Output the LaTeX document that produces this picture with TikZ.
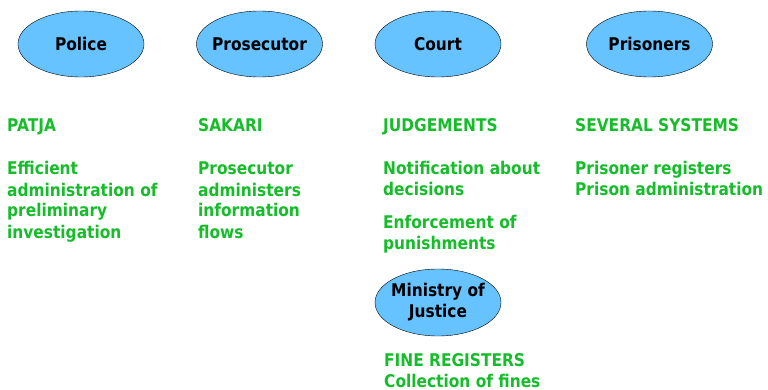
\documentclass[tikz,border=0pt]{standalone}
\usepackage{fontspec}
\setmainfont{DejaVu Sans}[FakeStretch=0.88]
\usepackage{xcolor}
\usetikzlibrary{shapes.geometric}
\definecolor{bubble}{RGB}{102,195,255}
\definecolor{sysgreen}{RGB}{22,188,42}
\tikzset{
  party/.style={ellipse, draw=black, fill=bubble, minimum width=126pt, minimum height=66pt, inner xsep=-5pt, inner ysep=0pt, align=center, font=\fontsize{17.5}{21}\bfseries},
  system/.style={anchor=base west, inner sep=0pt, align=left, text=sysgreen, font=\fontsize{17.5}{21}\bfseries}
}
\begin{document}
\begin{tikzpicture}[x=1pt,y=-1pt]
\useasboundingbox (0,0) rectangle (768,390);
% actors
\node[party] (police) at (81,44) {Police};
\node[party] (prosecutor) at (259.5,44) {Prosecutor};
\node[party] (court) at (438,44) {Court};
\node[party] (prisoners) at (649.5,44) {Prisoners};
\node[party, minimum height=67pt] (ministry) at (438,302.5) {Ministry of\\Justice};
% systems (anchored at the baseline of the last line)
\node[system] (patja) at (7,132) {PATJA};
\node[system] (patjatext) at (7,238) {Efficient\\administration of\\preliminary\\investigation};
\node[system] (sakari) at (198,132) {SAKARI};
\node[system] (sakaritext) at (198,238) {Prosecutor\\administers\\information\\flows};
\node[system] (judgements) at (383,132) {JUDGEMENTS};
\node[system] (notify) at (383,196) {Notification about\\decisions};
\node[system] (enforce) at (383,249) {Enforcement of\\punishments};
\node[system] (several) at (575,132) {SEVERAL SYSTEMS};
\node[system] (prisontext) at (575,196) {Prisoner registers\\Prison administration};
\node[system] (fines) at (384,387) {FINE REGISTERS\\Collection of fines};
\end{tikzpicture}
\end{document}
